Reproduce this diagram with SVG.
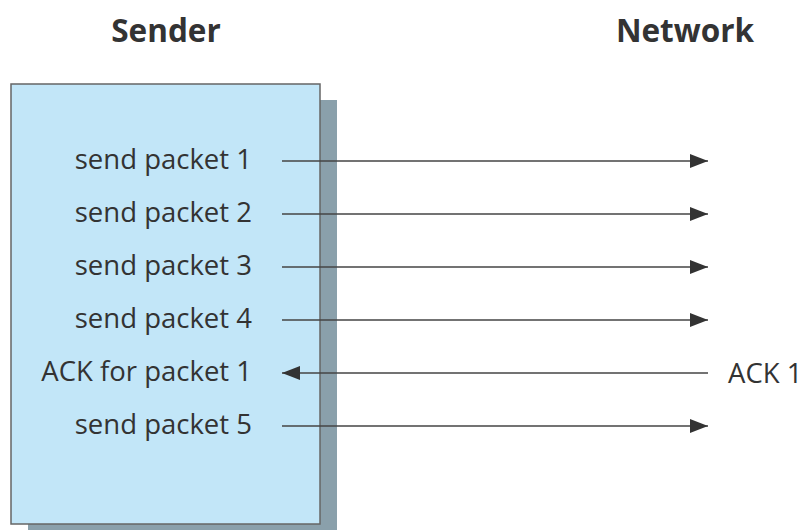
<svg xmlns="http://www.w3.org/2000/svg" width="805" height="530" viewBox="0 0 805 530">
<style>
.hd{font-family:"Open Sans","Noto Sans","Liberation Sans",sans-serif;font-weight:bold;font-size:31.5px;fill:#333;text-anchor:middle}
.lb{font-family:"Open Sans","Noto Sans","Liberation Sans",sans-serif;font-size:27.5px;fill:#333}
.r{text-anchor:end}
.ln{stroke:#444;stroke-width:1.6;fill:none}
</style>
<defs>
<marker id="ah" viewBox="0 0 18 14" refX="18" refY="7" markerWidth="18" markerHeight="14" markerUnits="userSpaceOnUse" orient="auto">
<path d="M0,0 L18,7 L0,14 Z" fill="#333"/>
</marker>
</defs>
<rect width="805" height="530" fill="#fff"/>
<g id="headings">
<text class="hd" x="166" y="42">Sender</text>
<text class="hd" x="685" y="42">Network</text>
</g>
<g id="sender">
<rect x="28" y="100" width="309" height="440" fill="#8aa0ab"/>
<rect x="11" y="84" width="309" height="440" fill="#c2e6f8" stroke="#666" stroke-width="1.5"/>
<text class="lb r" x="252" y="169">send packet 1</text>
<text class="lb r" x="252" y="222">send packet 2</text>
<text class="lb r" x="252" y="275">send packet 3</text>
<text class="lb r" x="252" y="328">send packet 4</text>
<text class="lb r" x="252" y="381">ACK for packet 1</text>
<text class="lb r" x="252" y="434">send packet 5</text>
</g>
<g id="network">
<text class="lb" x="728" y="383">ACK 1</text>
</g>
<g id="connectors">
<line class="ln" x1="282" y1="161" x2="708" y2="161" marker-end="url(#ah)"/>
<line class="ln" x1="282" y1="214" x2="708" y2="214" marker-end="url(#ah)"/>
<line class="ln" x1="282" y1="267" x2="708" y2="267" marker-end="url(#ah)"/>
<line class="ln" x1="282" y1="320" x2="708" y2="320" marker-end="url(#ah)"/>
<line class="ln" x1="708" y1="373" x2="282" y2="373" marker-end="url(#ah)"/>
<line class="ln" x1="282" y1="426" x2="708" y2="426" marker-end="url(#ah)"/>
</g>
</svg>
